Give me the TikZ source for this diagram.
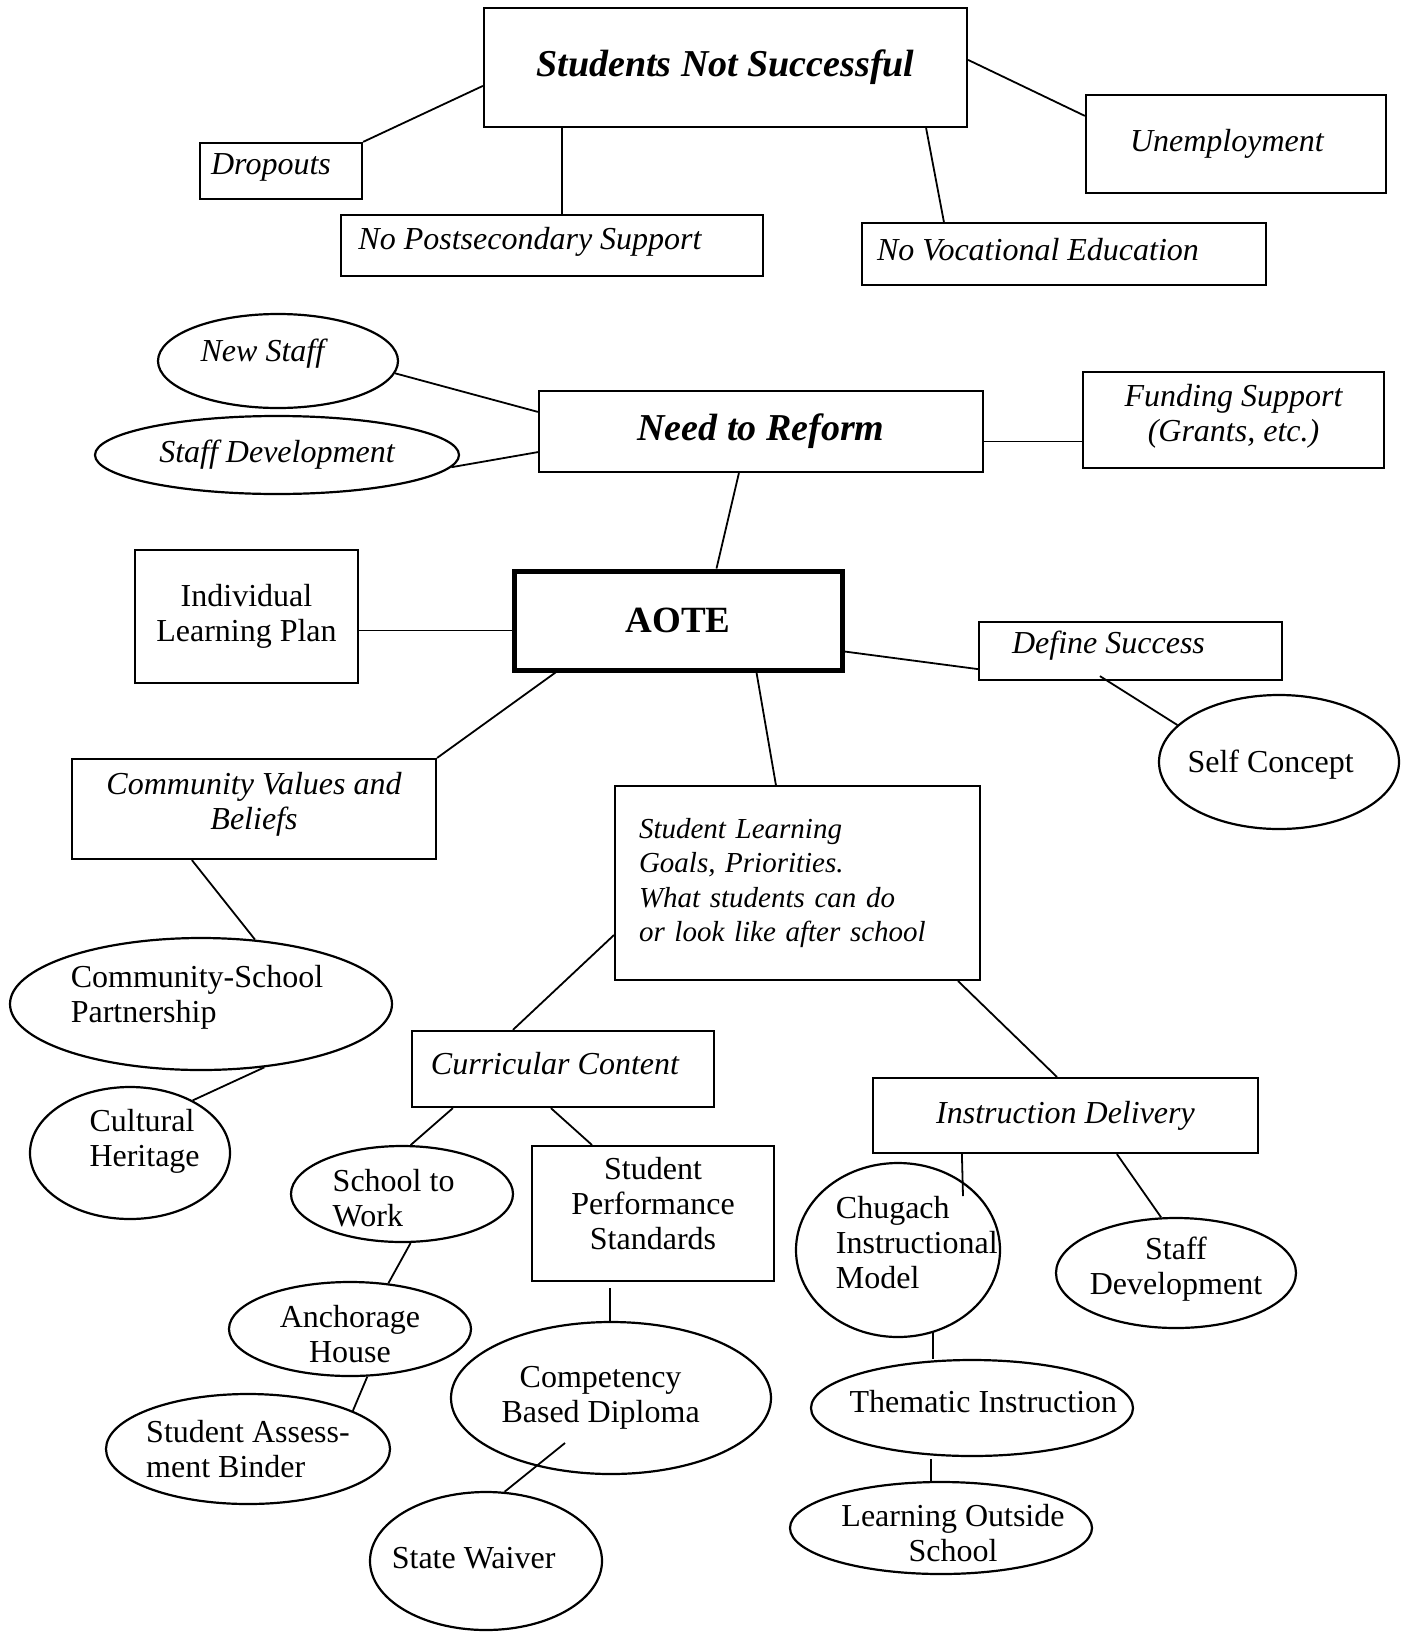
\documentclass[tikz,border=0pt]{standalone}
\usepackage{fontspec}
\setmainfont{Liberation Serif}
\usetikzlibrary{calc}
\usetikzlibrary{shapes.geometric}

\begin{document}
\begin{tikzpicture}[x=0.5pt,y=-0.5pt,line width=0.9pt,
  box/.style={draw,rectangle,inner sep=0pt,line width=1.1pt,font=\fontsize{16}{17.5}\selectfont},
  oval/.style={draw,ellipse,inner sep=0pt,line width=1.1pt},
  every label/.style={inner sep=0pt,font=\fontsize{16}{17.5}\selectfont},
  it/.style={font=\fontsize{16}{17.5}\selectfont\itshape},
  big/.style={font=\fontsize{19}{22}\selectfont\bfseries\itshape}]
\useasboundingbox (0,0) rectangle (1409,1633);

\node[box,big,minimum width=241.5pt,minimum height=59.5pt] (sns) at (725.5,67.5) {Students Not Successful};
\node[box,minimum width=81pt,minimum height=28pt,label={[it,xshift=-5pt,yshift=2pt]center:Dropouts}] (drop) at (281,171) {};
\node[box,minimum width=211pt,minimum height=30.5pt,label={[it,xshift=-11pt,yshift=2pt]center:No Postsecondary Support}] (nps) at (552,245.5) {};
\node[box,it,minimum width=150pt,minimum height=49pt,text width=106pt,align=left] (une) at (1236,144) {Unemployment};
\node[box,minimum width=202pt,minimum height=31pt,label={[it,xshift=-13pt,yshift=2pt]center:No Vocational Education}] (nve) at (1064,254) {};

\node[oval,minimum width=120pt,minimum height=47pt,label={[it,xshift=-7.8pt,yshift=3.6pt]center:New Staff}] (news) at (278,361) {};
\node[oval,minimum width=182pt,minimum height=39pt,label={[it]center:Staff Development}] (sdev) at (277,455) {};
\node[box,big,minimum width=222pt,minimum height=40.5pt] (ntr) at (761,431.5) {Need to Reform};
\node[box,minimum width=150.5pt,minimum height=48pt,label={[it,align=center,yshift=2pt]center:Funding Support\\(Grants, etc.)}] (fund) at (1233.5,420) {};

\node[box,line width=2.5pt,font=\fontsize{18.5}{22}\selectfont\bfseries,minimum width=164pt,minimum height=49.5pt] (aote) at (678,620.5) {AOTE};
\node[box,align=center,minimum width=111.5pt,minimum height=66.5pt] (ilp) at (246.5,616.5) {Individual\\Learning Plan};
\node[box,minimum width=151.5pt,minimum height=29pt,label={[it,xshift=-11pt,yshift=2.5pt]center:Define Success}] (dsuc) at (1130.5,651) {};
\node[oval,minimum width=120pt,minimum height=67pt,label={[xshift=-4.2pt,yshift=-1.5pt]center:Self Concept}] (self) at (1279,762) {};
\node[box,minimum width=182pt,minimum height=50pt,label={[it,align=center,yshift=2.5pt]center:Community Values and\\Beliefs}] (cvb) at (254,809) {};
\node[box,font=\fontsize{14.5}{17.2}\selectfont\itshape,minimum width=182.5pt,minimum height=97pt,text width=158.5pt,align=left] (slg) at (797.5,883) {Student Learning\\Goals, Priorities.\\What students can do\\or look like after school};

\node[oval,minimum width=191pt,minimum height=66pt,label={[align=left,xshift=-2pt,yshift=3.4pt]center:Community-School\\Partnership}] (csp) at (201,1004) {};
\node[oval,minimum width=100pt,minimum height=66pt,label={[align=left,xshift=7.3pt,yshift=5.7pt]center:Cultural\\Heritage}] (cult) at (130,1153) {};
\node[box,minimum width=151pt,minimum height=38pt,label={[it,xshift=-4pt,yshift=2.5pt]center:Curricular Content}] (cc) at (563,1069) {};
\node[box,it,minimum width=192.5pt,minimum height=37.5pt] (inst) at (1065.5,1115.5) {Instruction Delivery};

\node[oval,minimum width=111pt,minimum height=48pt,label={[align=left,xshift=-4.2pt,yshift=-2pt]center:School to\\Work}] (stw) at (402,1194) {};
\node[box,minimum width=121pt,minimum height=67.5pt,label={[align=center,yshift=5pt]center:Student\\Performance\\Standards}] (sps) at (653,1213.5) {};
\node[oval,minimum width=121pt,minimum height=47pt,label={[align=center,yshift=-2.6pt]center:Anchorage\\House}] (anch) at (350,1329) {};
\node[oval,minimum width=142pt,minimum height=55pt,label={[align=left]center:Student Assess-\\ment Binder}] (sab) at (248,1449) {};
\node[oval,minimum width=160pt,minimum height=76pt,label={[align=center,xshift=-5.2pt]center:Competency\\Based Diploma}] (cbd) at (611,1398) {};
\node[oval,minimum width=116pt,minimum height=69pt,label={[xshift=-6.2pt,yshift=1.5pt]center:State Waiver}] (sw) at (486,1561) {};

\node[oval,minimum width=102pt,minimum height=87pt,label={[align=left,xshift=9.4pt,yshift=3.6pt]center:Chugach\\Instructional\\Model}] (chug) at (898,1250) {};
\node[oval,minimum width=120pt,minimum height=55pt,label={[align=center,yshift=2pt]center:Staff\\Development}] (sdev2) at (1176,1273) {};
\node[oval,minimum width=161pt,minimum height=48pt,label={[xshift=5.7pt,yshift=3.1pt]center:Thematic Instruction}] (them) at (972,1408) {};
\node[oval,minimum width=151pt,minimum height=46pt,label={[align=center,xshift=6pt,yshift=-2.6pt]center:Learning Outside\\School}] (los) at (941,1528) {};

\draw ($(sns.north west)+(0,79)$) -- (drop.north east);
\draw ($(sns.south west)+(79,0)$) coordinate (p1) -- (p1 |- nps.north);
\draw ($(sns.north east)+(0,53)$) -- ($(une.north west)+(0,22)$);
\draw ($(sns.south east)+(-42,0)$) -- ($(nve.north west)+(83,0)$);
\draw (news.-6) -- ($(ntr.north west)+(0,22)$);
\draw (sdev.-4) -- ($(ntr.south west)+(0,-21)$);
\draw ($(ntr.east)+(0,10)$) coordinate (p2) -- (fund.west |- p2);
\draw ($(ntr.south west)+(201,0)$) -- ($(aote.north west)+(205,0)$);
\draw ($(ilp.east)+(0,14)$) coordinate (p3) -- (aote.west |- p3);
\draw ($(aote.south east)+(0,-21)$) -- ($(dsuc.south west)+(0,-12)$);
\draw ($(dsuc.south west)+(122,-5)$) -- (self.160);
\draw ($(aote.south west)+(44,0)$) -- (cvb.north east);
\draw ($(aote.south west)+(245,0)$) -- ($(slg.north west)+(162,0)$);
\draw ($(cvb.south west)+(121,0)$) -- (csp.50);
\draw (csp.-45) -- (cult.40);
\draw ($(slg.south west)+(0,-46)$) -- ($(cc.north west)+(102,0)$);
\draw ($(slg.south east)+(-23,0)$) -- ($(inst.north west)+(185,0)$);
\draw ($(cc.south west)+(42,0)$) -- (stw.80);
\draw ($(cc.south west)+(140,0)$) -- ($(sps.north west)+(61,0)$);
\draw (stw.-80) -- (anch.50);
\draw (anch.-70) -- (sab.20);
\draw ($(sps.south west)+(79,6)$) coordinate (p4) -- (p4 |- cbd.north);
\draw ($(cbd.center)+(-46,45)$) -- (sw.75);
\draw ($(inst.south west)+(90,0)$) -- ($(chug.center)+(65,-54)$);
\draw ($(inst.south west)+(245,0)$) -- (sdev2.105);
\draw ($(chug.center)+(35,81)$) coordinate (p6) -- (p6 |- them.north);
\draw ($(them.south)+(-41,2)$) coordinate (p7) -- (p7 |- los.north);
\end{tikzpicture}
\end{document}
